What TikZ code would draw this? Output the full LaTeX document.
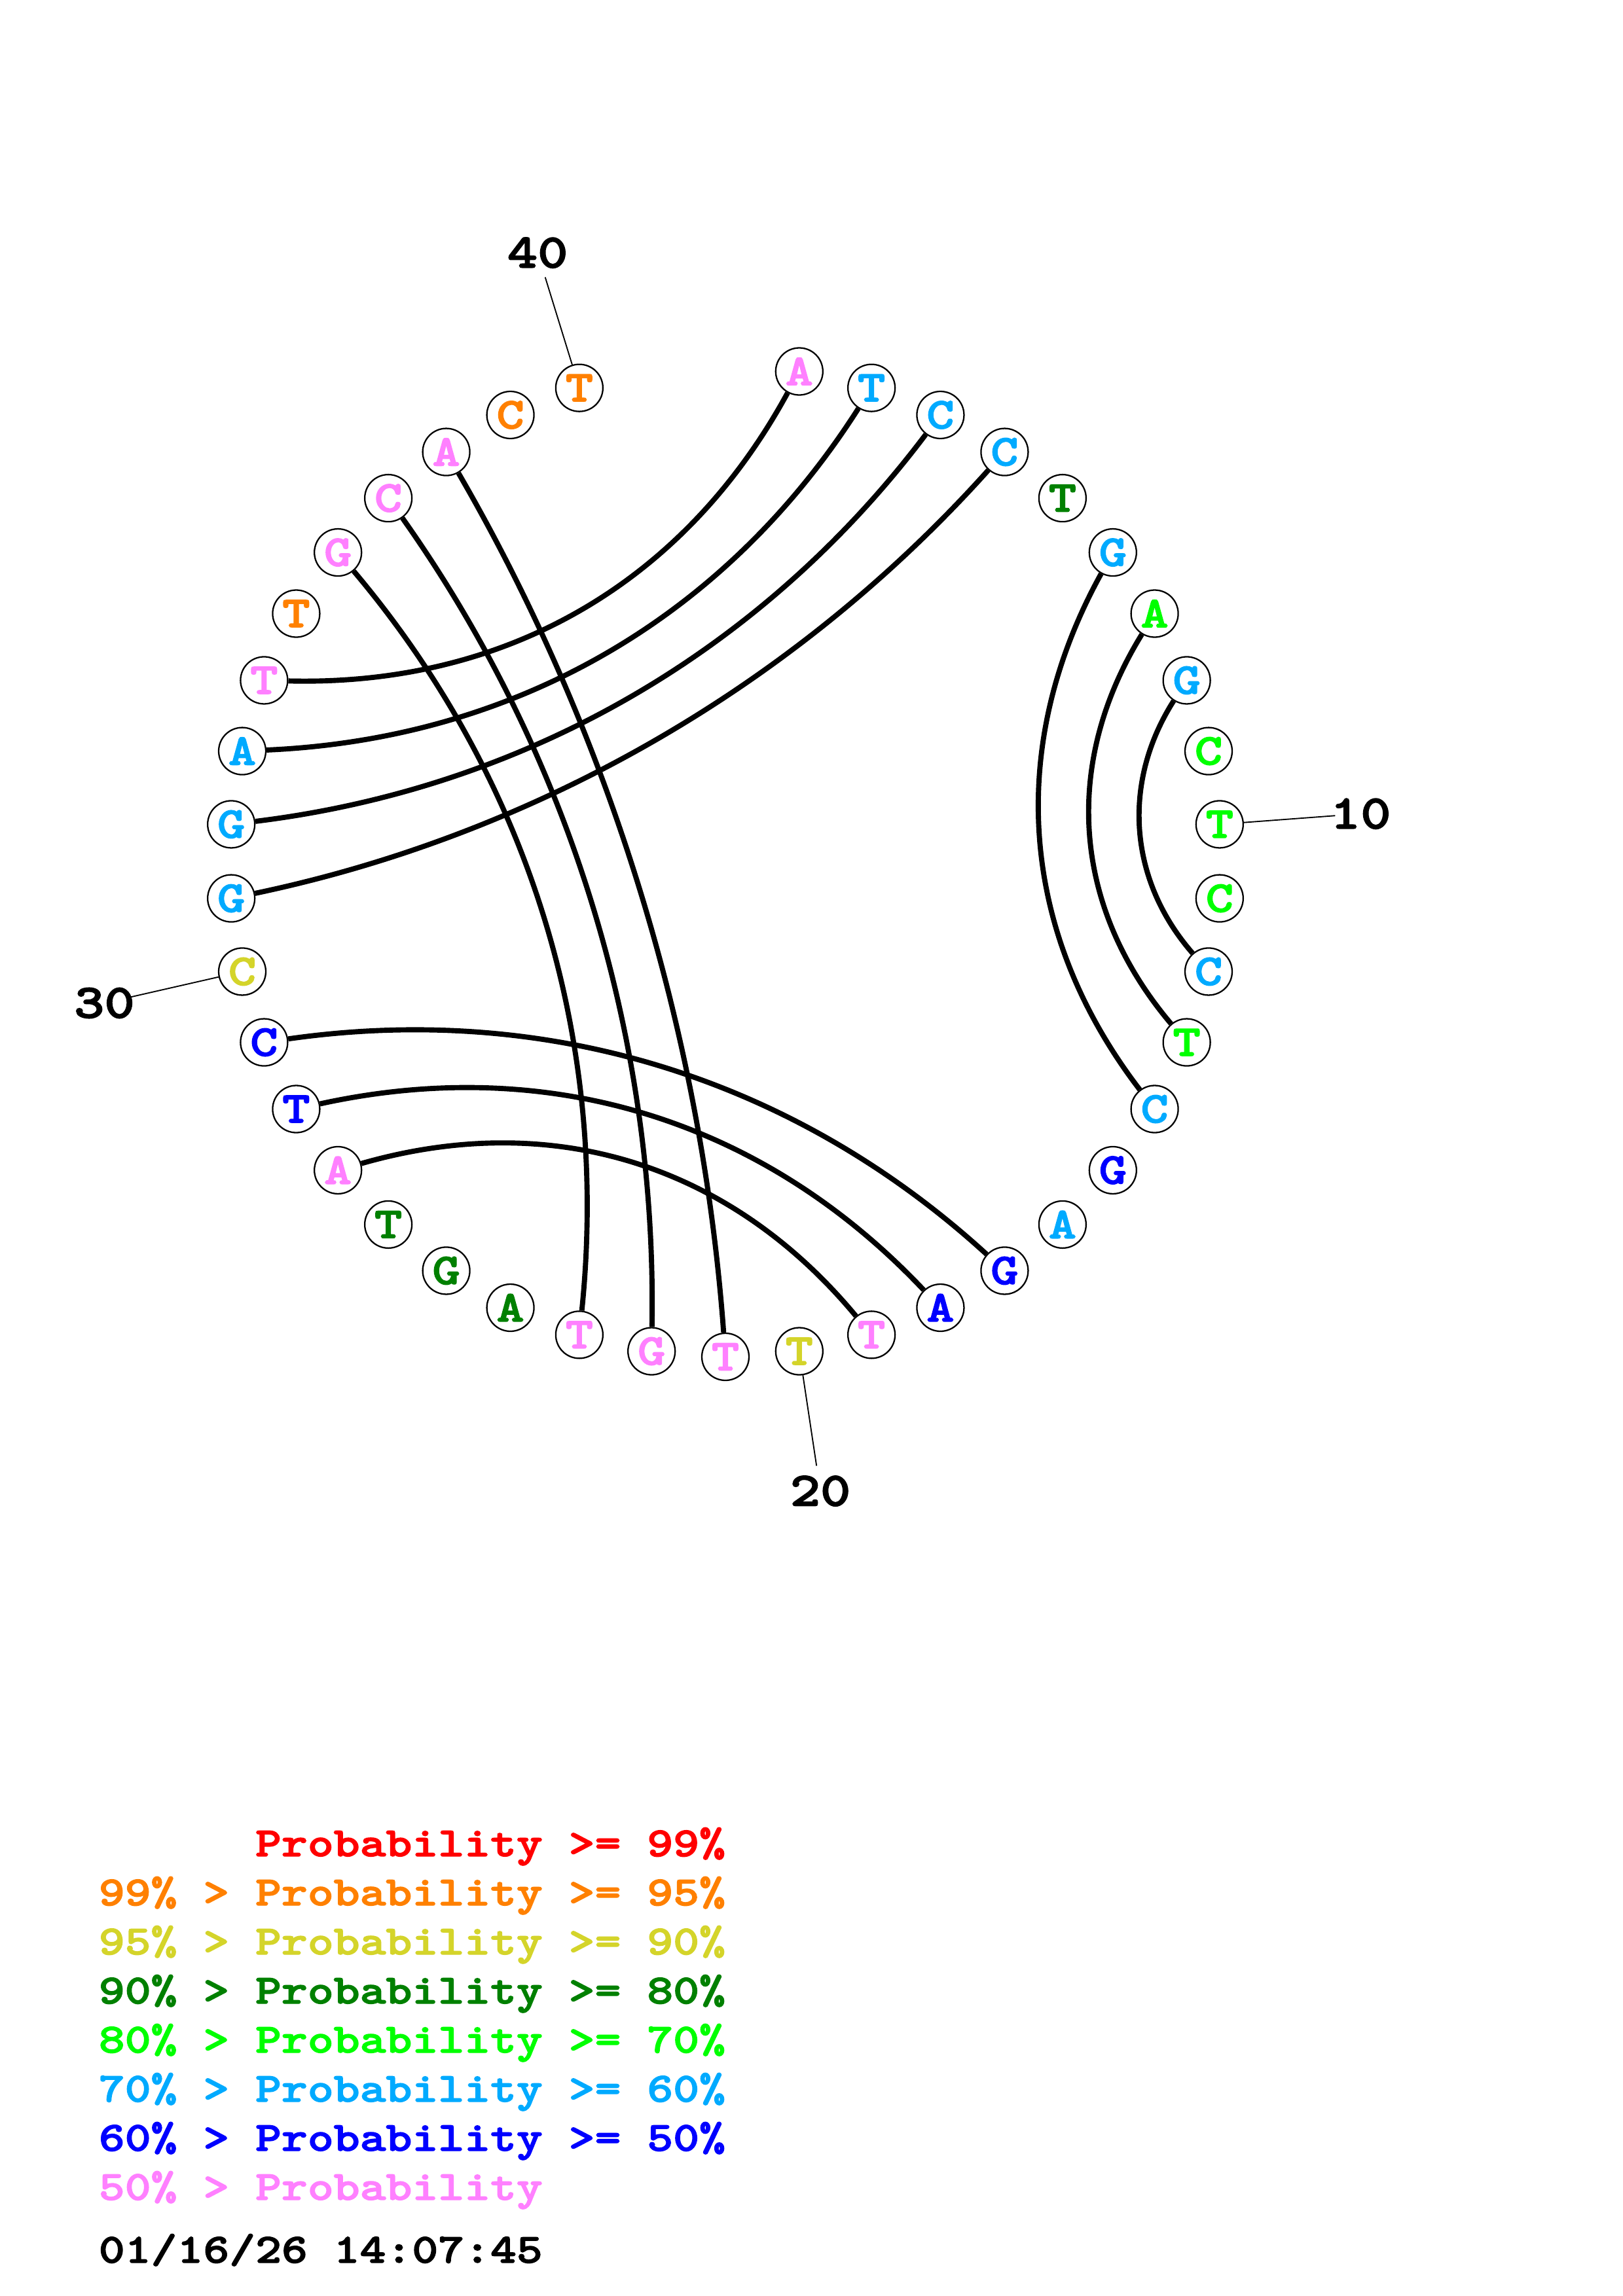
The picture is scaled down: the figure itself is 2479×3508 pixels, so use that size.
\documentclass[tikz,border=0pt]{standalone}
\usepackage{fontspec}
\newfontfamily\cour{lmmonolt10-bold.otf}[FakeStretch=1.2,FakeBold=2.2]
\usetikzlibrary{calc}
\definecolor{pRed}{RGB}{255,0,0}
\definecolor{pOrange}{RGB}{255,128,0}
\definecolor{pYellow}{RGB}{212,212,42}
\definecolor{pDkGreen}{RGB}{0,128,0}
\definecolor{pGreen}{RGB}{0,255,0}
\definecolor{pLtBlue}{RGB}{0,170,255}
\definecolor{pBlue}{RGB}{0,0,255}
\definecolor{pPink}{RGB}{255,128,255}
\newcommand\pairarc[4]{%
  \coordinate (q#1) at ($(1108,1316)+(#3:#4)$);
  \draw[arcline] (n#1) .. controls ($(n#1.center)!2/3!(q#1)$) and ($(n#2.center)!2/3!(q#1)$) .. (n#2);
}
\begin{document}
\begin{tikzpicture}[x=0.0846667mm,y=-0.0846667mm,
  nt/.style={circle,draw=black,line width=0.55pt,fill=white,minimum size=6.096mm,inner sep=0pt,
    font=\cour\fontsize{16.2}{17}\selectfont},
  lbl/.style={font=\cour\fontsize{17.7}{18}\selectfont,text=black,inner sep=0pt},
  lline/.style={draw=black,line width=0.45pt},
  arcline/.style={draw=black,line width=1.9pt},
  leg/.style={font=\cour\fontsize{15.25}{16}\selectfont,inner sep=0pt,anchor=base west}]
\fill[white] (0,0) rectangle (2479,3508);
\useasboundingbox (0,0) rectangle (2479,3508);
% nucleotides
\foreach \i/\b/\c in {1/A/pPink,2/T/pLtBlue,3/C/pLtBlue,4/C/pLtBlue,5/T/pDkGreen,6/G/pLtBlue,
  7/A/pGreen,8/G/pLtBlue,9/C/pGreen,10/T/pGreen,11/C/pGreen,12/C/pLtBlue,13/T/pGreen,
  14/C/pLtBlue,15/G/pBlue,16/A/pLtBlue,17/G/pBlue,18/A/pBlue,19/T/pPink,20/T/pYellow,
  21/T/pPink,22/G/pPink,23/T/pPink,24/A/pDkGreen,25/G/pDkGreen,26/T/pDkGreen,27/A/pPink,
  28/T/pBlue,29/C/pBlue,30/C/pYellow,31/G/pLtBlue,32/G/pLtBlue,33/A/pLtBlue,34/T/pPink,
  35/T/pOrange,36/G/pPink,37/C/pPink,38/A/pPink,39/C/pOrange,40/T/pOrange}{
  \node[nt,text=\c] (n\i) at ($(1108,1316)+({90+(\i-21)*360/42}:757)$) {\b};
}
% position labels
\foreach \k in {10,20,30,40}{
  \coordinate (t\k) at ($(1108,1316)+({90+(\k-21)*360/42}:934)$);
  \node[lbl] (L\k) at ($(1108,1316)+({90+(\k-21)*360/42}:973)$) {\k};
  \draw[lline] (n\k) -- (t\k);
}
% base pairs
\pairarc{1}{34}{-120}{303.4}
\pairarc{2}{33}{-120}{226.2}
\pairarc{3}{32}{-120}{160.9}
\pairarc{4}{31}{-120}{105}
\pairarc{6}{14}{-4.2857}{346.8}
\pairarc{7}{13}{-4.2857}{444.1}
\pairarc{8}{12}{-4.2857}{556.6}
\pairarc{17}{29}{107.1429}{192.5}
\pairarc{18}{28}{107.1429}{263.4}
\pairarc{19}{27}{107.1429}{346.8}
\pairarc{21}{38}{162.857}{56.5}
\pairarc{22}{37}{162.857}{105}
\pairarc{23}{36}{162.857}{160.9}
% legend
\node[leg,text=pRed] (g1) at (150,2836) {\hphantom{000000}Probability >= 99\%};
\node[leg,text=pOrange] (g2) at (150,2911) {99\% > Probability >= 95\%};
\node[leg,text=pYellow] (g3) at (150,2986) {95\% > Probability >= 90\%};
\node[leg,text=pDkGreen] (g4) at (150,3061) {90\% > Probability >= 80\%};
\node[leg,text=pGreen] (g5) at (150,3136) {80\% > Probability >= 70\%};
\node[leg,text=pLtBlue] (g6) at (150,3211) {70\% > Probability >= 60\%};
\node[leg,text=pBlue] (g7) at (150,3286) {60\% > Probability >= 50\%};
\node[leg,text=pPink] (g8) at (150,3361) {50\% > Probability};
\node[leg,text=black] (dt) at (150,3457) {01/16/26 14:07:45};
\end{tikzpicture}
\end{document}
